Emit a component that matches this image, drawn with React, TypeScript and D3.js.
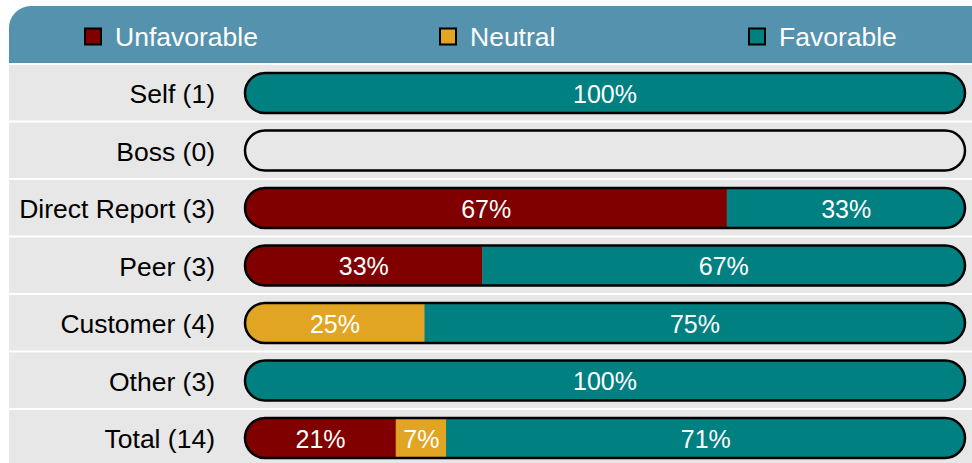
import React from "react";
import * as d3 from "d3";

const categories = ["Self (1)", "Boss (0)", "Direct Report (3)", "Peer (3)", "Customer (4)", "Other (3)", "Total (14)"];
const unfavorable = [0, 0, 2, 1, 0, 0, 3];
const neutral = [0, 0, 0, 0, 1, 0, 1];
const favorable = [1, 0, 1, 2, 3, 3, 10];
const seriesNames = ["Unfavorable", "Neutral", "Favorable"];
const seriesColors = ["#800000", "#e2a423", "#008080"];

const W = 972;
const H = 463;
const panelX = 9;
const panelY = 6;
const headerH = 57;
const rowsTop = 64;
const rowH = 57.5;
const barX0 = 245;
const barX1 = 965;
const barH = 40;
const font = "'Liberation Sans', Arial, sans-serif";
const legendSquareX = [85, 440, 749];

export default function App() {
  const x = d3.scaleLinear().domain([0, 100]).range([barX0, barX1]).clamp(true);
  const y = d3.scaleBand<number>().domain(d3.range(categories.length)).range([rowsTop, rowsTop + rowH * categories.length]);
  const series = [unfavorable, neutral, favorable];

  return (
    <svg width={W} height={H} style={{ position: "absolute", left: 0, top: 0 }} fontFamily={font}>
      <defs>
        <clipPath id="panelClip">
          <rect x={panelX} y={panelY} width={W + 20} height={H + 20} rx={22} ry={22} />
        </clipPath>
        {categories.map((_, i) => (
          <clipPath id={`barClip${i}`} key={i}>
            <rect x={barX0} y={(y(i) as number) + 9} width={barX1 - barX0} height={barH} rx={barH / 2} ry={barH / 2} />
          </clipPath>
        ))}
      </defs>
      <g clipPath="url(#panelClip)">
        <rect x={panelX} y={panelY} width={W} height={H} fill="#e7e7e7" />
        <rect x={panelX} y={panelY} width={W} height={headerH} fill="#5592ae" />
        <rect x={panelX} y={panelY + headerH} width={W} height={2} fill="#ffffff" />
        {categories.slice(1).map((_, i) => (
          <rect key={i} x={panelX} y={(y(i + 1) as number) - 1} width={W} height={2} fill="#ffffff" />
        ))}
      </g>
      {seriesNames.map((name, k) => (
        <g key={name}>
          <rect x={legendSquareX[k]} y={28.5} width={16} height={16} fill={seriesColors[k]} stroke="#000" strokeWidth={2} />
          <text x={legendSquareX[k] + 30} y={46} fontSize={26.5} fill="#ffffff">{name}</text>
        </g>
      ))}
      {categories.map((cat, i) => {
        const top = (y(i) as number) + 9;
        const cy = top + barH / 2;
        const total = unfavorable[i] + neutral[i] + favorable[i];
        let cum = 0;
        const segs = series.map((s, k) => {
          const pct = total > 0 ? Math.round((s[i] / total) * 100) : 0;
          const last = k === series.length - 1;
          const seg = { k, x0: cum, x1: last && pct > 0 ? 100 : cum + pct, pct };
          cum += pct;
          return seg;
        });
        return (
          <g key={cat}>
            <text x={215} y={cy + 10} fontSize={26.5} textAnchor="end" fill="#000">{cat}</text>
            <g clipPath={`url(#barClip${i})`}>
              <rect x={barX0} y={top} width={barX1 - barX0} height={barH} fill="#e7e7e7" />
              {total > 0 && segs.map((sg) =>
                sg.pct > 0 ? (
                  <rect key={sg.k} x={x(sg.x0)} y={top} width={x(sg.x1) - x(sg.x0)} height={barH} fill={seriesColors[sg.k]} stroke={seriesColors[sg.k]} strokeWidth={1} />
                ) : (
                  <line key={sg.k} x1={x(sg.x0)} x2={x(sg.x0)} y1={top} y2={top + barH} stroke={seriesColors[sg.k]} strokeWidth={1} />
                )
              )}
            </g>
            <rect x={barX0} y={top} width={barX1 - barX0} height={barH} rx={barH / 2} ry={barH / 2} fill="none" stroke="#000" strokeWidth={2.5} />
            {total > 0 && segs.filter((sg) => sg.pct > 0).map((sg) => (
              <text key={sg.k} x={(x(sg.x0) + x(sg.x1)) / 2} y={cy + 9.5} fontSize={25} textAnchor="middle" fill="#ffffff">
                {`${sg.pct}%`}
              </text>
            ))}
          </g>
        );
      })}
    </svg>
  );
}
